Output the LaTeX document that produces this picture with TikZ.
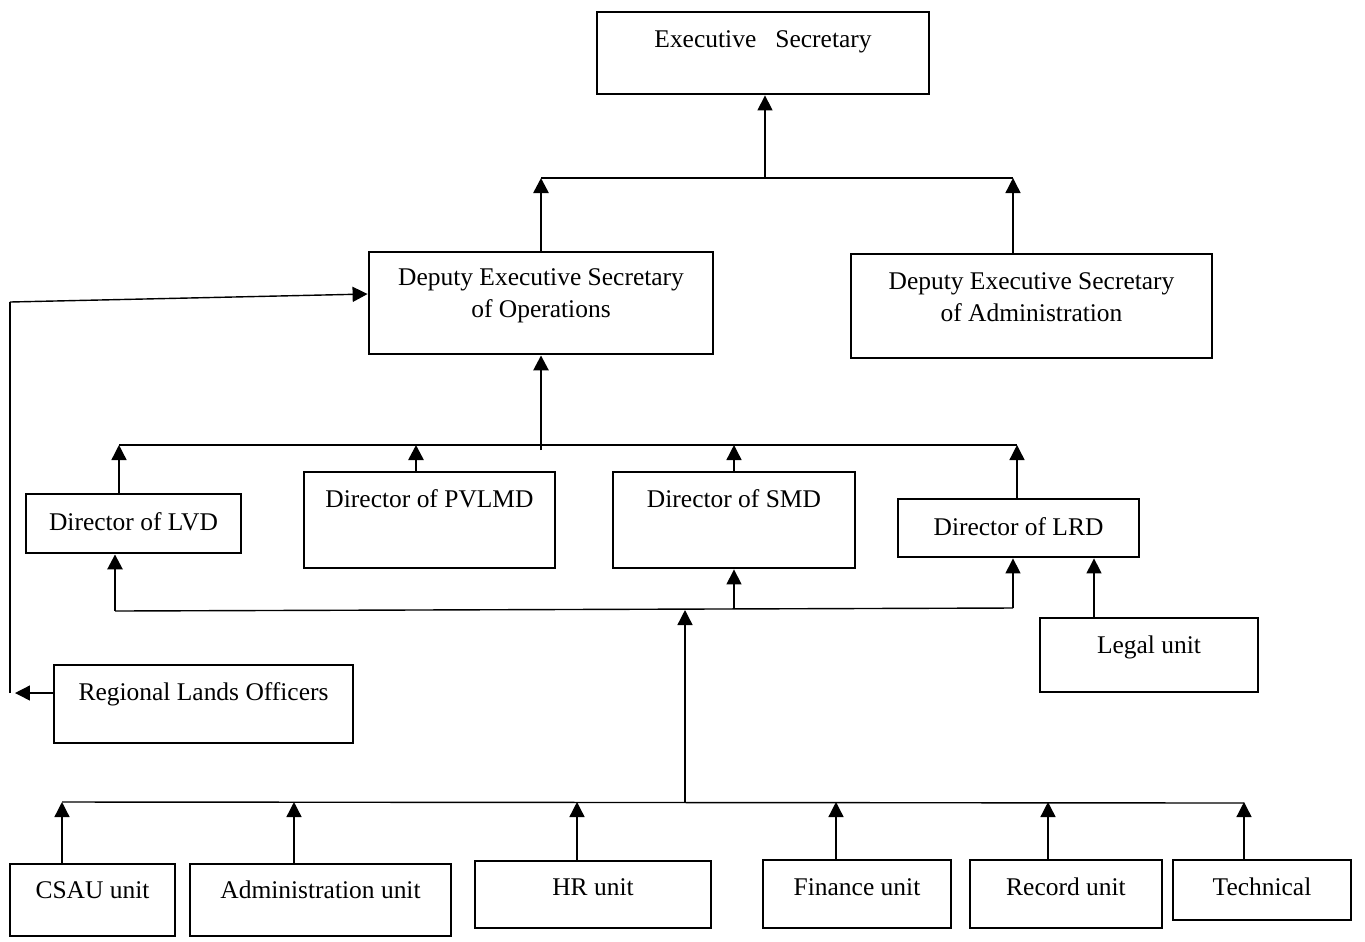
\documentclass[tikz,border=0pt]{standalone}
\usepackage{fontspec}
\setmainfont{Liberation Serif}
\usetikzlibrary{arrows.meta,fit}

\tikzset{
  orgframe/.style={draw, line width=1.6pt, inner sep=0pt},
  orgtext/.style={font=\fontsize{14.5}{18}\selectfont, align=center, inner sep=0pt},
  link/.style={line width=0.8pt},
  heavylink/.style={line width=1.5pt},
  uparrow/.style={-{Triangle[length=0.3cm,width=0.3cm]}},
}

% box from (x1,y1) to (x2,y2), label centred at height #6
\NewDocumentCommand{\orgbox}{mmmmmmm}{%
\node[orgframe, fit={(#2,#3) (#4,#5)}] (#1) {};%
\node[orgtext] (#1-label) at ({(#2+#4)/2},#6) {#7};%
}

\begin{document}
\begin{tikzpicture}[x=0.02cm, y=-0.02cm]
        \useasboundingbox (0,0) rectangle (1365,941);

        % Top.
        \orgbox{exec}{597}{12}{929}{94}{42}{Executive\ \ \ Secretary}
        \orgbox{deso}{369}{252}{713}{354}{296}{Deputy Executive Secretary\\of Operations}
        \orgbox{desa}{851}{254}{1212}{358}{297}{Deputy Executive Secretary\\of Administration}

        % Directors.
        \orgbox{lvd}{26}{494}{241}{553}{522}{Director of LVD}
        \orgbox{pvlmd}{304}{472}{555}{568}{499}{Director of PVLMD}
        \orgbox{smd}{613}{472}{855}{568}{499}{Director of SMD}
        \orgbox{lrd}{898}{499}{1139}{557}{527}{Director of LRD}
        \orgbox{legal}{1040}{618}{1258}{692}{647}{Legal unit}
        \orgbox{rlo}{54}{665}{353}{743}{694}{Regional Lands Officers}

        % Units.
        \orgbox{csau}{10}{864}{175}{936}{890}{CSAU unit}
        \orgbox{admin}{190}{864}{451}{936}{890}{Administration unit}
        \orgbox{hr}{475}{861}{711}{928}{887}{HR unit}
        \orgbox{finance}{763}{860}{951}{928}{887}{Finance unit}
        \orgbox{record}{970}{860}{1162}{928}{887}{Record unit}
        \orgbox{technical}{1173}{860}{1351}{920}{887}{Technical}

        % Deputies to executive.
        \coordinate (topL) at (541,178);
        \coordinate (topM) at (765,178);
        \coordinate (topR) at (1013,178);
        \draw[heavylink] (topL) -- (topR);
        \draw[heavylink, uparrow] (deso.north -| topL) -- (topL);
        \draw[link, uparrow] (desa.north -| topR) -- (topR);
        \draw[link, uparrow] (topM) -- (topM |- exec.south);

        % Directors to deputy.
        \coordinate (dirL) at (119,445);
        \coordinate (dirR) at (1017,445);
        \coordinate (dirM) at (541,450);
        \draw[heavylink] (dirL) -- (dirR);
        \draw[heavylink, uparrow] (dirM) -- (dirM |- deso.south);
        \foreach \d/\dx/\w in {lvd/119/link, pvlmd/416/heavylink, smd/734/link, lrd/1017/link} {
          \coordinate (\d-up) at (\dx,445);
          \draw[\w, uparrow] (\d.north -| \d-up) -- (\d-up);
        }

        % Lower bus.
        \coordinate (lowL) at (115,611);
        \coordinate (lowC) at (734,609);
        \coordinate (lowM) at (685,610);
        \coordinate (lowR) at (1013,608);
        \draw[link] (lowL) -- (lowR);
        \draw[heavylink, uparrow] (lowL) -- (lowL |- lvd.south);
        \draw[link, uparrow] (lowC) -- (lowC |- smd.south);
        \draw[link, uparrow] (lowR) -- (lowR |- lrd.south);
        \coordinate (legalTop) at ([xshift=-1.1cm]legal.north);
        \draw[link, uparrow] (legalTop) -- (legalTop |- lrd.south);

        % Units bus.
        \coordinate (unitL) at (62,802);
        \coordinate (unitM) at (685,802);
        \coordinate (unitR) at (1244,803);
        \draw[link] (unitL) -- (unitR);
        \draw[link, uparrow] (unitM) -- (lowM);
        \foreach \u/\ux in {csau/62, admin/294, hr/577, finance/836, record/1048, technical/1244} {
          \coordinate (\u-up) at (\ux,802);
          \draw[link, uparrow] (\u.north -| \u-up) -- (\u-up);
        }

        % Regional officers back to operations.
        \coordinate (backB) at (10,693);
        \coordinate (backT) at (10,302);
        \draw[link] (backB) -- (backT);
        \draw[link, uparrow] (backT) -- ([yshift=0.18cm]deso.west);
        \draw[link, uparrow] (rlo.west |- backB) -- ([xshift=0.1cm]backB);
    \end{tikzpicture}
\end{document}
